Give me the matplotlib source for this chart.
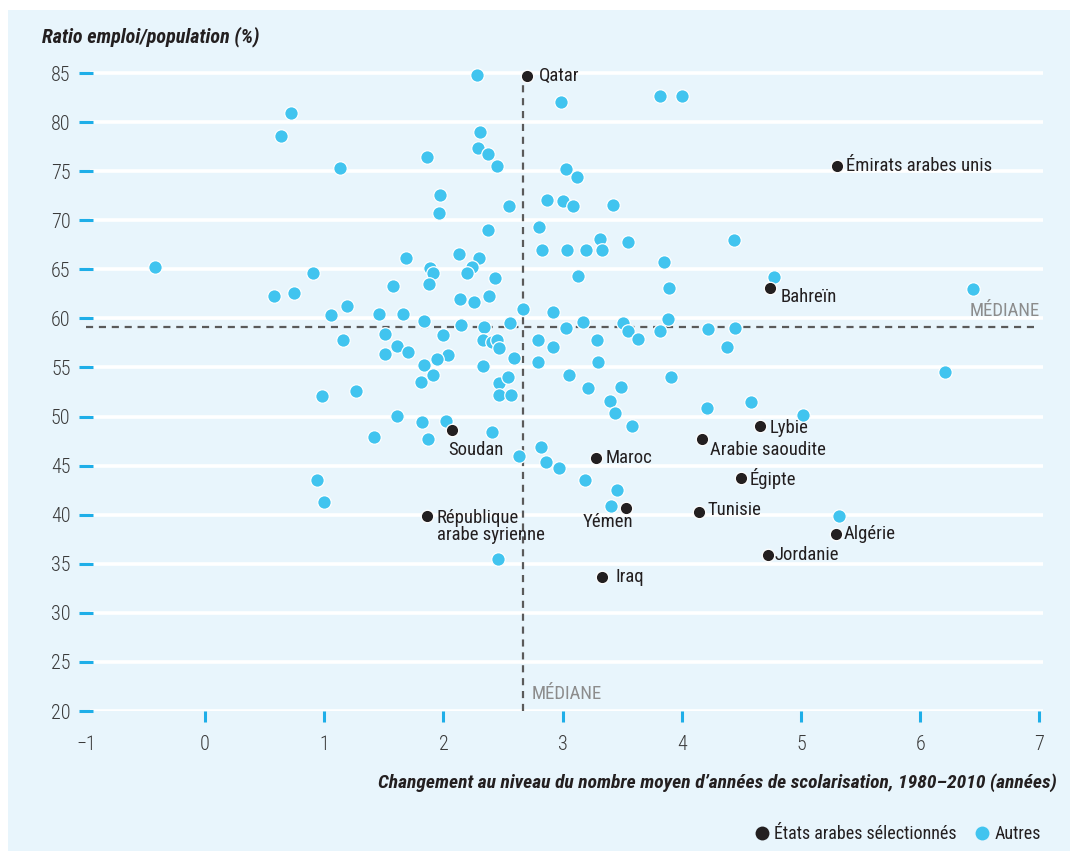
import matplotlib
matplotlib.use("Agg")
import matplotlib.pyplot as plt
from matplotlib.lines import Line2D

# ---------------- data ----------------
arab_names = ["Qatar", "Émirats arabes unis", "Bahreïn", "Lybie", "Arabie saoudite",
              "Maroc", "Égipte", "Tunisie", "Yémen", "Algérie", "Jordanie", "Iraq",
              "Soudan", "République\narabe syrienne"]
arab_x = [2.70, 5.30, 4.74, 4.66, 4.17, 3.28, 4.50, 4.14, 3.53, 5.29, 4.72, 3.33, 2.07, 1.86]
arab_y = [84.7, 75.5, 63.1, 49.0, 47.7, 45.8, 43.7, 40.3, 40.7, 38.05, 35.9, 33.65, 48.6, 39.9]

autres_x = [2.28, 0.72, 0.64, 1.13, 2.31, 2.29, 2.37, 2.45, 1.86, 1.97, 1.96, 2.55, 2.37, 2.80,
            2.99, 3.82, 4.00,
            3.03, 3.12, 2.87, 3.00, 3.09, 3.42,
            3.31, 3.55, 4.44, 2.83, 3.04, 3.20, 3.33,
            3.85, 3.13, 4.77, 3.89, 6.44,
            -0.42, 0.91, 0.58, 0.75, 1.69, 2.13, 2.30, 2.24, 2.20, 1.89, 1.91, 2.43, 1.58, 1.88,
            2.14, 2.26, 2.38,
            1.19, 1.06, 1.46, 1.66, 1.84, 2.15, 2.67, 2.56, 2.34,
            1.16, 1.51, 2.00, 1.61, 1.70, 1.51, 2.33, 2.41, 2.45, 2.47, 2.59, 2.04, 1.95, 1.84,
            2.33, 1.91, 1.81, 2.47, 2.54, 2.47, 2.57, 0.98, 1.27,
            2.92, 3.17, 3.03, 3.51, 3.55, 3.63, 3.29, 2.79, 2.92, 2.79, 3.30, 3.88, 3.82, 4.22,
            4.45, 4.38,
            3.05, 3.21, 3.49, 3.91, 6.21, 3.40, 3.44, 4.21, 4.58, 5.02, 3.58,
            1.61, 1.82, 2.02, 1.42, 1.87, 2.41, 2.63, 2.82, 2.86, 2.97, 3.19, 3.46, 3.41, 5.32,
            0.94, 1.00, 2.46]
autres_y = [84.8, 80.9, 78.6, 75.3, 79.0, 77.35, 76.75, 75.55, 76.4, 72.55, 70.75, 71.45, 69.0, 69.35,
            82.05, 82.65, 82.65,
            75.2, 74.45, 72.05, 71.95, 71.45, 71.6,
            68.05, 67.75, 68.0, 67.0, 67.0, 67.0, 67.0,
            65.75, 64.3, 64.2, 63.1, 63.0,
            65.25, 64.65, 62.25, 62.55, 66.2, 66.55, 66.15, 65.2, 64.6, 65.1, 64.65, 64.1, 63.35, 63.55,
            61.95, 61.7, 62.3,
            61.25, 60.3, 60.45, 60.45, 59.7, 59.35, 61.0, 59.5, 59.15,
            57.85, 58.45, 58.3, 57.2, 56.6, 56.35, 57.8, 57.6, 57.85, 56.95, 55.95, 56.3, 55.9, 55.25,
            55.15, 54.25, 53.5, 53.4, 54.0, 52.2, 52.2, 52.05, 52.6,
            60.7, 59.6, 59.0, 59.55, 58.75, 57.9, 57.8, 57.8, 57.1, 55.6, 55.55, 59.9, 58.75, 58.9,
            59.0, 57.05,
            54.25, 52.95, 53.05, 54.0, 54.5, 51.6, 50.35, 50.85, 51.5, 50.15, 49.05,
            50.1, 49.45, 49.55, 47.95, 47.75, 48.45, 45.95, 46.9, 45.35, 44.8, 43.5, 42.5, 40.9, 39.85,
            43.55, 41.25, 35.5]

median_x = 2.67
median_y = 59.1

x_ticks = [-1, 0, 1, 2, 3, 4, 5, 6, 7]
y_ticks = [20, 25, 30, 35, 40, 45, 50, 55, 60, 65, 70, 75, 80, 85]

# label offsets in pixels (dx, dy, ha, va)
label_offsets = {
    "Qatar": (12, 0, "left", "center"),
    "Émirats arabes unis": (9, 0, "left", "center"),
    "Bahreïn": (11, -9, "left", "center"),
    "Lybie": (9, -2, "left", "center"),
    "Arabie saoudite": (8, -11, "left", "center"),
    "Maroc": (10, 0, "left", "center"),
    "Égipte": (8, 0, "left", "center"),
    "Tunisie": (9, 2, "left", "center"),
    "Yémen": (-18, -14, "center", "center"),
    "Algérie": (8, 0, "left", "center"),
    "Jordanie": (7, 0, "left", "center"),
    "Iraq": (14, 0, "left", "center"),
    "Soudan": (-4, -20, "left", "center"),
    "République\narabe syrienne": (10, -11, "left", "center"),
}

# ---------------- style ----------------
FONT = ["Roboto Condensed", "DejaVu Sans"]
plt.rcParams["font.family"] = FONT
BG = "#E8F5FC"
BLUE = "#41C4EF"
TICKBLUE = "#1EAEE8"
BLACK = "#231F20"
GREY_TXT = "#3A3A3A"

fig = plt.figure(figsize=(10.70, 8.51), dpi=100)
fig.patch.set_facecolor("white")
fig.patches.append(plt.Rectangle((8 / 1070, 0), 1 - 8 / 1070, 1 - 10 / 851,
                                 transform=fig.transFigure, facecolor=BG,
                                 edgecolor="none", zorder=-10))

ax = fig.add_axes([0.0802, 0.1645, 0.8968, 0.767])
ax.set_zorder(2)
ax.set_facecolor("none")
ax.set_xlim(-1, 7.05)
ax.set_ylim(20, 86.5)
for s in ax.spines.values():
    s.set_visible(False)

# gridlines
ax.hlines(y_ticks, -0.965, 7.03, colors="white", linewidth=2.6, zorder=1)

# ticks
ax.set_xticks(x_ticks)
ax.set_xticklabels(["\u22121" if v < 0 else str(v) for v in x_ticks])
ax.set_yticks(y_ticks)
ax.set_yticklabels([str(v) for v in y_ticks])
ax.tick_params(axis="y", direction="inout", length=10, width=2.2, color=TICKBLUE,
               labelsize=14.5, labelcolor=GREY_TXT, pad=6)
ax.tick_params(axis="x", direction="out", length=8, width=2.2, color=TICKBLUE,
               labelsize=14.5, labelcolor=GREY_TXT, pad=9)
for lab in ax.get_xticklabels() + ax.get_yticklabels():
    lab.set_fontweight(300)
ax.xaxis.get_major_ticks()[0].tick1line.set_visible(False)

# median lines
ax.plot([-1, 7], [median_y, median_y], linestyle=(0, (3.2, 2.6)), color="#5A5A5A",
        linewidth=1.6, zorder=2)
ax.plot([median_x, median_x], [20, 83.8], linestyle=(0, (3.2, 2.6)), color="#5A5A5A",
        linewidth=1.6, zorder=2)
ax.text(7.0, median_y + 0.75, "MÉDIANE", ha="right", va="bottom", fontsize=13.5,
        color="#8C8C8C", zorder=3)
ax.text(median_x + 0.07, 20.8, "MÉDIANE", ha="left", va="bottom", fontsize=13.5,
        color="#8C8C8C", zorder=3)

# points
ax.scatter(autres_x, autres_y, s=95, color=BLUE, edgecolors="white", linewidths=0.9, zorder=4)
ax.scatter(arab_x, arab_y, s=80, color=BLACK, edgecolors="white", linewidths=0.9, zorder=5)

for name, x, y in zip(arab_names, arab_x, arab_y):
    dx, dy, ha, va = label_offsets[name]
    ax.annotate(name, (x, y), xytext=(dx, dy), textcoords="offset pixels",
                ha=ha, va=va, fontsize=13.5, color=BLACK, zorder=6, linespacing=0.95)

# axis titles
fig.text(42 / 1070, 1 - 37 / 851, "Ratio emploi/population (%)", ha="left", va="center",
         fontsize=14.5, fontweight="bold", fontstyle="italic", color=BLACK)
fig.text(1057 / 1070, 1 - 783 / 851,
         "Changement au niveau du nombre moyen d’années de scolarisation, 1980–2010 (années)",
         ha="right", va="center", fontsize=14, fontweight="bold", fontstyle="italic",
         color=BLACK)

# legend
handles = [Line2D([], [], marker="o", linestyle="none", markersize=10, markerfacecolor=BLACK,
                  markeredgecolor="none", label="États arabes sélectionnés"),
           Line2D([], [], marker="o", linestyle="none", markersize=10, markerfacecolor=BLUE,
                  markeredgecolor="none", label="Autres")]
fig.legend(handles=handles, loc="center right", bbox_to_anchor=(1050 / 1070, 1 - 834 / 851),
           ncol=2, frameon=False, fontsize=13, handletextpad=0.2, columnspacing=0.9,
           handlelength=1.0, borderpad=0, labelcolor=BLACK)

fig.savefig("out.png", dpi=100, facecolor=fig.get_facecolor())
